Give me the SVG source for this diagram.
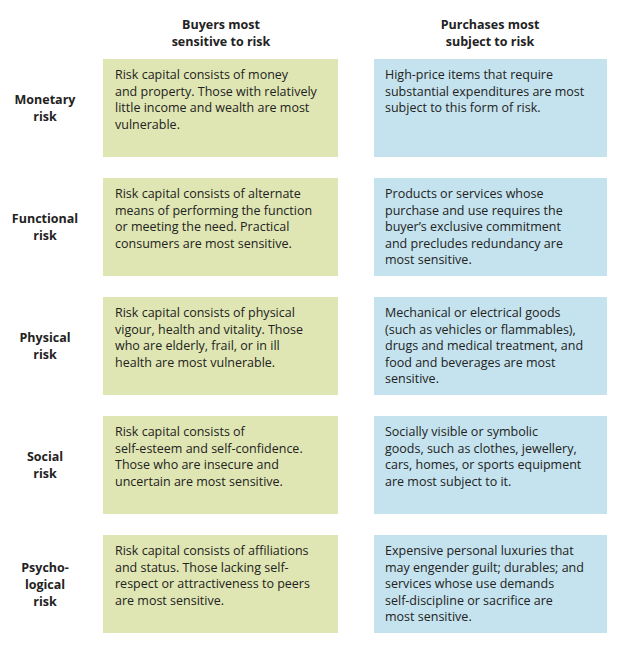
<svg xmlns="http://www.w3.org/2000/svg" width="634" height="654" viewBox="0 0 634 654">
<style>
text{font-family:"Open Sans","Noto Sans",sans-serif;font-size:12.5px;fill:#222}
.h{font-weight:bold;text-anchor:middle;font-size:12.5px}
.g{fill:#dfe6b3}.b{fill:#c5e3ee}
</style>
<rect width="634" height="654" fill="#fff"/>
<g id="headers">
<text class="h" x="221" y="29">Buyers most</text><text class="h" x="221" y="46">sensitive to risk</text>
<text class="h" x="490" y="29">Purchases most</text><text class="h" x="490" y="46">subject to risk</text>
</g>
<g id="row1">
<text class="h" x="45" y="104">Monetary</text><text class="h" x="45" y="121">risk</text>
<rect class="g" x="103" y="59" width="235" height="98"/>
<text x="115" y="79">Risk capital consists of money</text><text x="115" y="96">and property. Those with relatively</text><text x="115" y="112">little income and wealth are most</text><text x="115" y="129">vulnerable.</text>
<rect class="b" x="374" y="59" width="233" height="98"/>
<text x="385" y="79">High-price items that require</text><text x="385" y="96">substantial expenditures are most</text><text x="385" y="112">subject to this form of risk.</text>
</g>
<g id="row2">
<text class="h" x="45" y="223">Functional</text><text class="h" x="45" y="240">risk</text>
<rect class="g" x="103" y="178" width="235" height="98"/>
<text x="115" y="198">Risk capital consists of alternate</text><text x="115" y="215">means of performing the function</text><text x="115" y="231">or meeting the need. Practical</text><text x="115" y="248">consumers are most sensitive.</text>
<rect class="b" x="374" y="178" width="233" height="98"/>
<text x="385" y="198">Products or services whose</text><text x="385" y="215">purchase and use requires the</text><text x="385" y="231">buyer’s exclusive commitment</text><text x="385" y="248">and precludes redundancy are</text><text x="385" y="264">most sensitive.</text>
</g>
<g id="row3">
<text class="h" x="45" y="342">Physical</text><text class="h" x="45" y="359">risk</text>
<rect class="g" x="103" y="297" width="235" height="98"/>
<text x="115" y="317">Risk capital consists of physical</text><text x="115" y="334">vigour, health and vitality. Those</text><text x="115" y="350">who are elderly, frail, or in ill</text><text x="115" y="367">health are most vulnerable.</text>
<rect class="b" x="374" y="297" width="233" height="98"/>
<text x="385" y="317">Mechanical or electrical goods</text><text x="385" y="334">(such as vehicles or flammables),</text><text x="385" y="350">drugs and medical treatment, and</text><text x="385" y="367">food and beverages are most</text><text x="385" y="383">sensitive.</text>
</g>
<g id="row4">
<text class="h" x="45" y="461">Social</text><text class="h" x="45" y="478">risk</text>
<rect class="g" x="103" y="416" width="235" height="98"/>
<text x="115" y="436">Risk capital consists of</text><text x="115" y="453">self-esteem and self-confidence.</text><text x="115" y="469">Those who are insecure and</text><text x="115" y="486">uncertain are most sensitive.</text>
<rect class="b" x="374" y="416" width="233" height="98"/>
<text x="385" y="436">Socially visible or symbolic</text><text x="385" y="453">goods, such as clothes, jewellery,</text><text x="385" y="469">cars, homes, or sports equipment</text><text x="385" y="486">are most subject to it.</text>
</g>
<g id="row5">
<text class="h" x="45" y="572">Psycho-</text><text class="h" x="45" y="589">logical</text><text class="h" x="45" y="606">risk</text>
<rect class="g" x="103" y="535" width="235" height="98"/>
<text x="115" y="555">Risk capital consists of affiliations</text><text x="115" y="572">and status. Those lacking self-</text><text x="115" y="588">respect or attractiveness to peers</text><text x="115" y="605">are most sensitive.</text>
<rect class="b" x="374" y="535" width="233" height="98"/>
<text x="385" y="555">Expensive personal luxuries that</text><text x="385" y="572">may engender guilt; durables; and</text><text x="385" y="588">services whose use demands</text><text x="385" y="605">self-discipline or sacrifice are</text><text x="385" y="621">most sensitive.</text>
</g>
<g id="connectors"/>
</svg>
